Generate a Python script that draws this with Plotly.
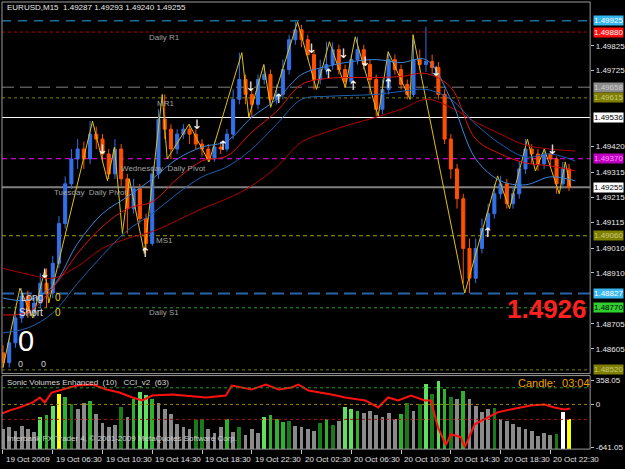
import plotly.graph_objects as go

# ---------------- data ----------------
# 30-minute bars, hours counted from 19 Oct 02:30
close = [1.48549,1.48629,1.48729,1.48817,1.48749,1.48789,1.48869,1.48829,1.48949,1.49109,
         1.49269,1.49369,1.49409,1.49369,1.49469,1.49449,1.49389,1.49309,1.49409,1.49289,
         1.49169,1.49249,1.49129,1.49029,1.49309,1.49529,1.49489,1.49409,1.49469,1.49489,
         1.49469,1.49429,1.49409,1.49369,1.49417,1.49409,1.49469,1.49609,1.49689,1.49629,
         1.49589,1.49689,1.49709,1.49609,1.49629,1.49729,1.49849,1.49889,1.49849,1.49789,
         1.49689,1.49729,1.49749,1.49809,1.49729,1.49681,1.49769,1.49809,1.49749,1.49689,
         1.49569,1.49649,1.49769,1.49729,1.49669,1.49629,1.49769,1.49749,1.49761,1.49737,
         1.49629,1.49449,1.49329,1.49209,1.49009,1.48889,1.49009,1.49089,1.49149,1.49229,
         1.49269,1.49189,1.49229,1.49329,1.49409,1.49389,1.49349,1.49389,1.49369,1.49269,
         1.49329,1.49255]
high = [1.48619,1.48649,1.48759,1.48849,1.48839,1.48809,1.48909,1.48929,1.48979,1.49139,
        1.49299,1.49409,1.49449,1.49439,1.49521,1.49499,1.49469,1.49409,1.49449,1.49429,
        1.49309,1.49289,1.49269,1.49149,1.49339,1.49569,1.49629,1.49509,1.49489,1.49509,
        1.49509,1.49489,1.49449,1.49429,1.49439,1.49439,1.49489,1.49649,1.49797,1.49709,
        1.49649,1.49709,1.49749,1.49729,1.49669,1.49769,1.49869,1.49921,1.49909,1.49869,
        1.49809,1.49769,1.49841,1.49839,1.49829,1.49749,1.49789,1.49861,1.49829,1.49769,
        1.49709,1.49689,1.49801,1.49789,1.49749,1.49689,1.49869,1.49809,1.49901,1.49789,
        1.49759,1.49649,1.49469,1.49349,1.49229,1.49049,1.49049,1.49129,1.49189,1.49269,
        1.49301,1.49289,1.49259,1.49359,1.49449,1.49429,1.49409,1.49409,1.49399,1.49379,
        1.49357,1.49349]
low = [1.48529,1.48529,1.48609,1.48709,1.48729,1.48729,1.48769,1.48769,1.48809,1.48929,
       1.49089,1.49249,1.49329,1.49329,1.49349,1.49409,1.49359,1.49289,1.49289,1.49259,
       1.49069,1.49149,1.49109,1.49009,1.49019,1.49289,1.49449,1.49369,1.49389,1.49449,
       1.49429,1.49409,1.49379,1.49357,1.49359,1.49389,1.49399,1.49449,1.49589,1.49589,
       1.49537,1.49569,1.49669,1.49577,1.49589,1.49609,1.49709,1.49829,1.49819,1.49769,
       1.49649,1.49669,1.49709,1.49729,1.49709,1.49657,1.49669,1.49749,1.49729,1.49629,
       1.49541,1.49549,1.49629,1.49709,1.49649,1.49609,1.49619,1.49729,1.49719,1.49709,
       1.49609,1.49429,1.49289,1.49169,1.48869,1.48829,1.48869,1.48989,1.49069,1.49129,
       1.49209,1.49169,1.49169,1.49209,1.49309,1.49349,1.49321,1.49329,1.49339,1.49229,
       1.49249,1.49240]
first_open = 1.48589
open_ = [first_open] + close[:-1]
bar_hours = [0.5 * i for i in range(len(close))]

zz_hours = [0.0,1.36,2.40,3.36,3.68,7.20,8.40,8.96,9.60,10.16,11.36,12.80,13.20,14.96,16.56,
            19.20,19.76,20.96,21.52,23.68,25.20,26.24,27.52,28.32,30.16,30.96,32.72,32.96,
            37.12,39.76,40.72,42.16,42.80,43.52,44.72,45.20,45.60]
zz_price = [1.48529,1.48849,1.48729,1.48921,1.48789,1.49521,1.49281,1.49417,1.49069,1.49289,
            1.48989,1.49629,1.49369,1.49509,1.49357,1.49797,1.49537,1.49749,1.49577,1.49921,
            1.49649,1.49841,1.49657,1.49861,1.49541,1.49801,1.49609,1.49869,1.48829,1.49301,
            1.49169,1.49449,1.49321,1.49409,1.49229,1.49357,1.49257]

ma_hours = [2 * j for j in range(24)]
ma_blue_fast = [1.48809,1.48801,1.48857,1.49029,1.49149,1.49217,1.49289,1.49369,1.49417,1.49441,
                1.49537,1.49609,1.49709,1.49741,1.49761,1.49769,1.49757,1.49769,1.49609,1.49369,
                1.49281,1.49265,1.49297,1.49281]
ma_blue_slow = [1.48669,1.48689,1.48749,1.48869,1.48981,1.49081,1.49149,1.49229,1.49297,1.49337,
                1.49409,1.49509,1.49609,1.49621,1.49625,1.49629,1.49641,1.49649,1.49609,1.49509,
                1.49429,1.49377,1.49389,1.49361]
ma_red_fast = [1.48741,1.48753,1.48849,1.48989,1.49097,1.49169,1.49197,1.49289,1.49361,1.49381,
               1.49477,1.49561,1.49669,1.49693,1.49697,1.49697,1.49701,1.49713,1.49657,1.49449,
               1.49389,1.49353,1.49341,1.49321]
ma_red_slow = [1.48929,1.48905,1.48889,1.48937,1.49009,1.49049,1.49077,1.49121,1.49169,1.49209,
               1.49261,1.49337,1.49437,1.49477,1.49509,1.49537,1.49569,1.49609,1.49577,1.49517,
               1.49469,1.49425,1.49409,1.49401]

down_hours = [3.36,8.0,15.6,19.92,24.8,27.36,29.12,34.8,44.16]
down_price = [1.48901,1.49401,1.49501,1.49657,1.49809,1.49789,1.49757,1.49717,1.49401]
up_hours = [11.44,17.68,22.16,26.16,28.16,30.96,38.96]
up_price = [1.48989,1.49417,1.49609,1.49709,1.49661,1.49669,1.49069]

levels = [1.49925,1.49880,1.49658,1.49615,1.49536,1.49370,1.49255,1.49060,1.48827,1.48770,1.48520]
level_text = ["1.49925","1.49880","1.49658","1.49615","1.49536","1.49370","1.49255",
              "1.49060","1.48827","1.48770","1.48520"]

price_ticks = [1.49825,1.49725,1.49420,1.49315,1.49215,1.49115,1.49010,
               1.48910,1.48705,1.48605]

volume = [210,230,190,240,210,180,330,350,440,560,530,460,410,470,490,360,270,230,250,430,
          330,510,580,550,510,470,410,360,260,230,210,300,310,210,170,230,310,180,230,150,
          210,170,330,350,310,280,290,240,230,210,190,270,310,250,290,430,410,390,370,390,
          350,330,370,310,360,470,390,460,660,560,690,610,530,510,590,510,440,380,410,420,
          310,290,260,230,210,190,140,170,150,160,380,310]
volume_class = ["g","g","g","g","g","g","lg","gr","lg","y","gr","dg","g","g","gr","g","g","g","g","dg",
                "g","gr","lg","lg","gr","g","g","g","g","g","g","dg","dg","g","g","g","gr","g","dg","g",
                "g","g","lg","gr","gr","gr","dg","g","g","g","g","dg","gr","dg","g","lg","lg","gr","g","g",
                "g","g","g","g","gr","dg","g","dg","lg","dg","lg","gr","dg","g","gr","g","g","g","g","dg",
                "g","g","g","g","g","g","g","g","g","dg","w","y"]

cci_hours = [-0.24,0.56,1.36,2.4,2.96,3.36,3.92,4.56,5.92,7.2,8.32,9.36,10.4,11.2,12.0,13.6,14.72,
             16.32,17.92,18.4,20.0,21.12,22.16,23.2,23.76,24.56,26.4,27.52,29.12,30.16,30.96,31.76,
             32.8,33.92,34.4,34.96,35.6,36.0,36.8,37.12,37.92,38.72,39.76,40.8,42.4,43.52,44.32,
             45.12,45.6]
cci = [-149,-90,-45,30,104,30,179,209,283,298,224,179,104,60,134,149,134,104,134,283,224,298,224,
       254,298,209,149,104,60,-45,104,60,134,60,60,-343,-612,-448,-492,-642,-298,-224,-119,-75,
       -15,0,-45,-75,-60]
cci_levels = [250, 0, -225]
cci_ticks = [358.05, 0, -641.05]

time_ticks = [0,4,8,12,16,20,24,28,32,36,40,44]
time_labels = ["19 Oct 2009","19 Oct 06:30","19 Oct 10:30","19 Oct 14:30","19 Oct 18:30",
               "19 Oct 22:30","20 Oct 02:30","20 Oct 06:30","20 Oct 10:30","20 Oct 14:30",
               "20 Oct 18:30","20 Oct 22:30"]

# ---------------- styles ----------------
W, H = 625, 469
FONT = "Liberation Sans"
def px(x, y):
    return x / W, 1 - y / H

XL, XR = 2, 593
MAIN_T, MAIN_B = 2, 376
IND_T, IND_B = 378, 452
xdom = [XL / W, XR / W]

level_style = [
    dict(color="#2aa6de", dash="9px,7px", width=1, bg="#38b6ee", fc="#ffffff"),
    dict(color="#c00000", dash="3px,3px", width=1, bg="#ff1010", fc="#ffffff"),
    dict(color="#808080", dash="12px,6px", width=1, bg="#8c8c8c", fc="#cfcfcf"),
    dict(color="#808000", dash="3px,3px", width=1, bg="#7f7f00", fc="#c8c880"),
    dict(color="#ffffff", dash="solid", width=1, bg="#ffffff", fc="#000000"),
    dict(color="#ff00ff", dash="5px,4px", width=1, bg="#c000c0", fc="#ff90ff"),
    dict(color="#808080", dash="solid", width=2, bg="#ffffff", fc="#000000"),
    dict(color="#a0a000", dash="4px,3px", width=1, bg="#7f7f00", fc="#c8c880"),
    dict(color="#2a64a8", dash="12px,6px", width=2, bg="#38b6ee", fc="#ffffff"),
    dict(color="#2e9a2e", dash="3px,3px", width=1, bg="#30d030", fc="#000000"),
    dict(color="#808000", dash="3px,3px", width=1, bg="#7f7f00", fc="#c8c880"),
]
vol_colors = {"g": "#8a8a8a", "lg": "#5fe05f", "gr": "#2fb02f", "dg": "#1a7a1a",
              "y": "#ffff00", "w": "#ffffff"}

fig = go.Figure()

# zigzag
fig.add_trace(go.Scatter(x=zz_hours, y=zz_price, mode="lines",
                         line=dict(color="#e0c010", width=1), xaxis="x", yaxis="y",
                         hoverinfo="skip"))
# moving averages
for vals, col in [(ma_red_slow, "#b00000"), (ma_red_fast, "#e01010"),
                  (ma_blue_slow, "#1d5fb0"), (ma_blue_fast, "#3a86dc")]:
    fig.add_trace(go.Scatter(x=ma_hours, y=vals, mode="lines", line=dict(color=col, width=1, shape="spline"),
                             xaxis="x", yaxis="y", hoverinfo="skip"))

fig.add_trace(go.Candlestick(x=bar_hours, open=open_, high=high, low=low, close=close,
                             increasing=dict(line=dict(color="#3470e8", width=1), fillcolor="#3470e8"),
                             decreasing=dict(line=dict(color="#ff5000", width=1), fillcolor="#ff5000"),
                             whiskerwidth=0, xaxis="x", yaxis="y", hoverinfo="skip"))

fig.add_trace(go.Scatter(x=down_hours, y=down_price, mode="text", text=["↓"] * len(down_hours),
                         textfont=dict(color="#ffffff", size=13, family="DejaVu Sans"),
                         xaxis="x", yaxis="y", hoverinfo="skip"))
fig.add_trace(go.Scatter(x=up_hours, y=up_price, mode="text", text=["↑"] * len(up_hours),
                         textfont=dict(color="#ffffff", size=13, family="DejaVu Sans"),
                         xaxis="x", yaxis="y", hoverinfo="skip"))

# indicator: volumes (y2) and CCI (y3)
fig.add_trace(go.Bar(x=bar_hours, y=volume, marker=dict(color=[vol_colors[c] for c in volume_class], line_width=0),
                     width=0.3, xaxis="x2", yaxis="y2", hoverinfo="skip"))
fig.add_trace(go.Scatter(x=cci_hours, y=cci, mode="lines", line=dict(color="#ff1010", width=2),
                         xaxis="x2", yaxis="y3", hoverinfo="skip"))

shapes = []
for lv, st in zip(levels, level_style):
    shapes.append(dict(type="line", xref="x domain", yref="y", x0=0, x1=1, y0=lv, y1=lv,
                       line=dict(color=st["color"], width=st["width"], dash=st["dash"]), layer="below"))
cci_cols = ["#1f9a1f", "#a08000", "#b01010"]
for lv, col in zip(cci_levels, cci_cols):
    shapes.append(dict(type="line", xref="x2 domain", yref="y3", x0=0, x1=1, y0=lv, y1=lv,
                       line=dict(color=col, width=1, dash="3px,3px")))
# frames
for (t, b) in [(MAIN_T, MAIN_B), (IND_T, IND_B)]:
    x0, y0 = px(XL, b)
    x1, y1 = px(XR, t)
    shapes.append(dict(type="rect", xref="paper", yref="paper", x0=x0, x1=x1, y0=y0, y1=y1,
                       line=dict(color="#9a9a9a", width=1)))

ann = []
for lv, txt_, st in zip(levels, level_text, level_style):
    ann.append(dict(x=(XR + 3) / W, xref="paper", y=lv, yref="y", text=txt_, showarrow=False,
                    xanchor="left", yanchor="middle", bgcolor=st["bg"], borderpad=0,
                    font=dict(family=FONT, size=8, color=st["fc"])))

def txt(x, y, s, size=8, color="#a8a8a8", anchor="left", bold=False, family=FONT):
    xx, yy = px(x, y)
    ann.append(dict(x=xx, y=yy, xref="paper", yref="paper", text=("<b>%s</b>" % s) if bold else s,
                    showarrow=False, xanchor=anchor, yanchor="middle",
                    font=dict(family=family, size=size, color=color)))

txt(5, 8, "EURUSD,M15  1.49287 1.49293 1.49240 1.49255", 8, "#e8e8e8")
txt(148, 38, "Daily R1", 8, "#a0a0a0")
txt(156, 104, "MR1", 8, "#a0a0a0")
txt(120, 170, "Wednesday  Daily Pivot", 8, "#a0a0a0")
txt(52, 194, "Tuesday  Daily Pivot", 8, "#a0a0a0")
txt(155, 242, "MS1", 8, "#a0a0a0")
txt(148, 315, "Daily S1", 8, "#a0a0a0")
txt(19, 299, "Long", 10, "#e0e0e0")
txt(53, 299, "0", 10, "#e6d200")
txt(17, 315, "Short", 10, "#e0e0e0")
txt(53, 315, "0", 10, "#e6d200")
txt(26, 343, "0", 29, "#ffffff", anchor="center")
txt(21, 366, "0", 9, "#d0d0d0", anchor="center")
txt(44, 366, "0", 9, "#d0d0d0", anchor="center")
txt(550, 311, "1.4926", 26, "#ff2020", anchor="center", bold=True)
txt(5, 385, "Sonic Volumes Enhanced  (10)   CCI_v2  (63)", 8, "#d8d8d8")
txt(518, 385, "Candle:  03:04", 11, "#f0a000")
txt(5, 441, "Interbank FX Trader 4, © 2001-2009 MetaQuotes Software Corp.", 8, "#d0d0d0")

for h, lab in zip(time_ticks, time_labels):
    ann.append(dict(x=h, xref="x2", y=px(0, 462)[1], yref="paper", text=lab, showarrow=False,
                    xanchor="left", yanchor="middle", xshift=1,
                    font=dict(family=FONT, size=8, color="#e0e0e0")))

xr = [(XL - 3) / 12.5, (XR - 3) / 12.5]
fig.update_layout(
    width=W, height=H, margin=dict(l=0, r=0, t=0, b=0),
    paper_bgcolor="#000000", plot_bgcolor="#000000", showlegend=False,
    xaxis=dict(domain=xdom, range=xr, anchor="y", showticklabels=False, showgrid=False,
               zeroline=False, showline=False, ticks="", rangeslider=dict(visible=False)),
    yaxis=dict(domain=[1 - MAIN_B / H, 1 - MAIN_T / H], range=[1.48505, 1.50001], anchor="x",
               side="right", tickvals=price_ticks, ticktext=["%.5f" % v for v in price_ticks],
               tickfont=dict(family=FONT, size=8, color="#e8e8e8"), ticks="outside", ticklen=3,
               tickcolor="#c0c0c0", showgrid=False, zeroline=False, showline=False),
    xaxis2=dict(domain=xdom, range=xr, anchor="y2", matches="x", showticklabels=False, showgrid=False,
                zeroline=False, showline=False, ticks="outside", ticklen=4, tickcolor="#c0c0c0",
                tickvals=time_ticks),
    yaxis2=dict(domain=[1 - IND_B / H, 1 - IND_T / H], range=[0, 740], anchor="x2", visible=False),
    yaxis3=dict(overlaying="y2", anchor="x2", side="right", range=[-671, 433], tickvals=cci_ticks,
                ticktext=["358.05", "0", "-641.05"], tickfont=dict(family=FONT, size=8, color="#e8e8e8"),
                ticks="outside", ticklen=3, tickcolor="#c0c0c0", showgrid=False, zeroline=False,
                showline=False),
    shapes=shapes, annotations=ann, bargap=0,
)
fig.write_html("out.html")
